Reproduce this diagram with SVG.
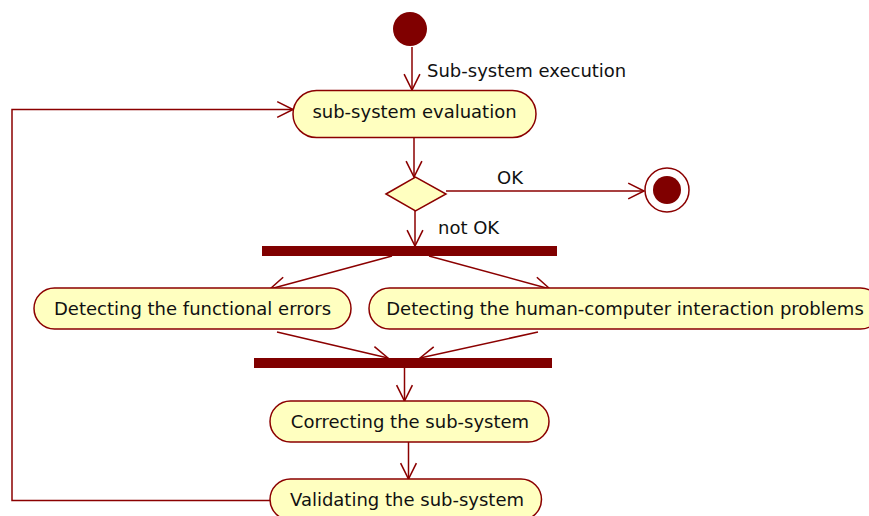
<svg xmlns="http://www.w3.org/2000/svg" width="869" height="516" viewBox="0 0 869 516">
<defs>
<style>
.node{fill:#FFFFC0;stroke:#8B0000;stroke-width:1.5}
.t{font-family:"DejaVu Sans","Liberation Sans",sans-serif;font-size:18px;fill:#111}
.c{text-anchor:middle}
.edge{fill:none;stroke:#8B0000;stroke-width:1.5;marker-end:url(#arr)}
.bar{fill:#800000}
.dot{fill:#800000}
</style>
<marker id="arr" markerUnits="userSpaceOnUse" markerWidth="20" markerHeight="20" viewBox="-17 -9 19 18" refX="0" refY="0" orient="auto">
<path d="M-15,-7.5 L0,0 L-15,7.5" fill="none" stroke="#8B0000" stroke-width="1.5"/>
</marker>
</defs>
<rect width="869" height="516" fill="#fff"/>
<g id="connectors">
<line class="edge" x1="412" y1="47" x2="412" y2="90"/>
<line class="edge" x1="414" y1="138" x2="414" y2="177"/>
<line class="edge" x1="446" y1="191" x2="644" y2="191"/>
<line class="edge" x1="415" y1="211" x2="415" y2="246"/>
<line class="edge" x1="392" y1="256" x2="270" y2="289"/>
<line class="edge" x1="429" y1="256" x2="550" y2="289"/>
<line class="edge" x1="277" y1="332" x2="388" y2="358"/>
<line class="edge" x1="538" y1="332" x2="420" y2="358"/>
<line class="edge" x1="404.5" y1="368" x2="404.5" y2="401"/>
<line class="edge" x1="408.5" y1="442" x2="408.5" y2="479"/>
<polyline class="edge" points="270,500.5 12,500.5 12,109.5 293,109.5"/>
<text class="t" x="427" y="77">Sub-system execution</text>
<text class="t" x="497" y="184">OK</text>
<text class="t" x="438" y="234">not OK</text>
</g>
<g id="start"><circle class="dot" cx="410" cy="29" r="17"/></g>
<g id="eval">
<rect class="node" x="293" y="90.5" width="243" height="47" rx="23.5"/>
<text class="t c" x="414.5" y="118">sub-system evaluation</text>
</g>
<g id="decision"><polygon class="node" points="386,194 415.5,177 446,194 415.5,211"/></g>
<g id="final">
<circle cx="667" cy="190" r="22" fill="#fff" stroke="#8B0000" stroke-width="1.5"/>
<circle class="dot" cx="667" cy="190" r="14"/>
</g>
<g id="fork"><rect class="bar" x="262" y="246" width="295" height="10"/></g>
<g id="functional">
<rect class="node" x="34" y="288" width="317" height="41" rx="20.5"/>
<text class="t c" x="192.5" y="314.5">Detecting the functional errors</text>
</g>
<g id="hci">
<rect class="node" x="369" y="288" width="512" height="41" rx="20.5"/>
<text class="t c" x="625" y="314.5">Detecting the human-computer interaction problems</text>
</g>
<g id="join"><rect class="bar" x="254" y="358" width="298" height="10"/></g>
<g id="correcting">
<rect class="node" x="270" y="401" width="279" height="41" rx="20.5"/>
<text class="t c" x="410" y="427.5">Correcting the sub-system</text>
</g>
<g id="validating">
<rect class="node" x="270" y="479" width="271.5" height="41" rx="20.5"/>
<text class="t c" x="407" y="506">Validating the sub-system</text>
</g>
</svg>
